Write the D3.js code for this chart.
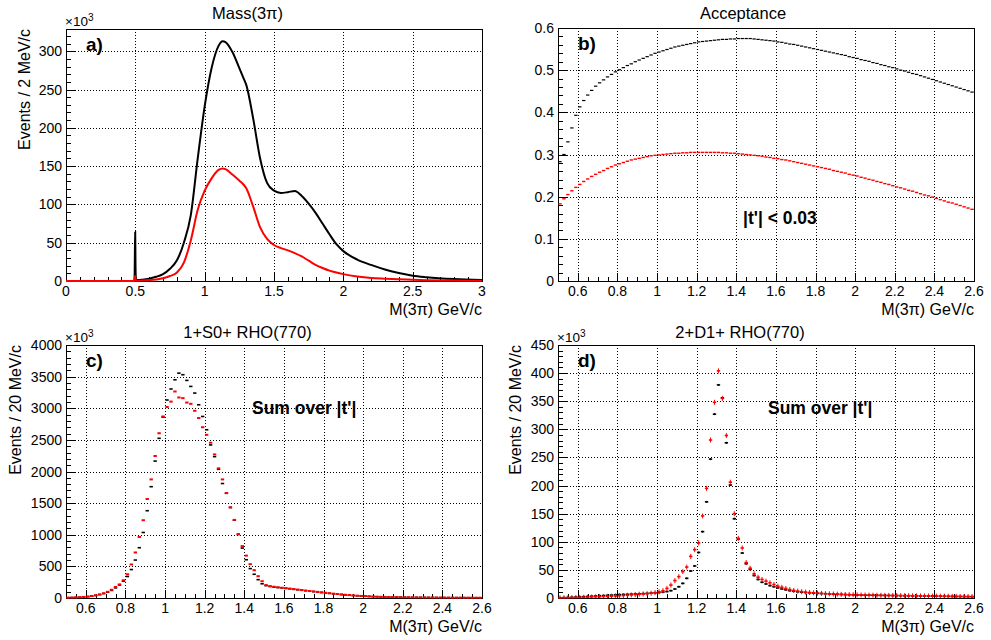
<!DOCTYPE html>
<html><head><meta charset="utf-8">
<script src="https://cdn.jsdelivr.net/npm/d3@7"></script>
<style>
body{margin:0;background:#fff}
svg{display:block}
text{font-family:'Liberation Sans',Arial,Helvetica,sans-serif;fill:#000}
</style>
</head><body>
<svg id="chart" width="991" height="640"></svg>
<script>
// ---------- Panel a: Mass(3pi), values in 10^3 events / 2 MeV ----------
const massX = [0,0.40,0.46,0.492,0.495,0.497,0.499,0.501,0.503,0.506,
  0.52,0.55,0.60,0.65,0.70,0.75,0.80,0.85,0.90,0.95,
  1.00,1.05,1.10,1.13,1.15,1.20,1.25,1.28,1.30,1.35,
  1.40,1.45,1.50,1.55,1.60,1.65,1.70,1.75,1.80,1.85,
  1.90,1.95,2.00,2.10,2.20,2.30,2.40,2.50,2.60,2.80,3.00];
const massAll = [0,0,0.1,0.3,8,40,64,25,6,1.5,
  1.2,1.6,3,5.5,9,16,27,50,86,160,
  228,278,307,313,312,299,278,265,256,212,
  160,128,118,115,116,117.5,111,101,89,75,
  61,48,39,28,21,15,10.5,7,5,2.5,1.2];
const massSel = [0,0,0,0.1,1.5,4.5,6.5,3,0.8,0.3,
  0.3,0.6,1.2,2,3.5,6.5,11,24,53,93,
  118,134,145,147,146,139,131,126,121,97,
  70,55,47,43,40,36.5,32,26.5,21,17,
  13.5,11,9,6,4,3,2.2,1.6,1.1,0.6,0.3];

// ---------- 20 MeV bins from 0.5 to 2.6 GeV (panels b, c, d) ----------
const binWidth = 0.02;
const binCenters = d3.range(105).map(i => +(0.51 + binWidth * i).toFixed(2));

// ---------- Panel b: Acceptance ----------
const accAll = [0.283,0.300,0.330,0.363,0.393,0.413,0.428,0.441,0.452,0.462,
 0.470,0.477,0.484,0.490,0.496,0.501,0.506,0.511,0.515,0.520,
 0.524,0.528,0.532,0.536,0.540,0.543,0.546,0.549,0.552,0.555,
 0.557,0.559,0.561,0.563,0.565,0.567,0.568,0.569,0.570,0.571,
 0.572,0.573,0.573,0.574,0.574,0.575,0.575,0.575,0.575,0.574,
 0.573,0.572,0.571,0.570,0.569,0.567,0.566,0.564,0.562,0.561,
 0.559,0.557,0.555,0.553,0.551,0.549,0.547,0.545,0.543,0.541,
 0.539,0.537,0.535,0.532,0.530,0.528,0.525,0.523,0.521,0.518,
 0.516,0.513,0.511,0.508,0.506,0.503,0.500,0.498,0.495,0.492,
 0.490,0.487,0.484,0.481,0.478,0.475,0.472,0.469,0.466,0.463,
 0.460,0.457,0.454,0.451,0.448];
const accSel = [0.183,0.195,0.205,0.214,0.222,0.229,0.236,0.242,0.248,0.253,
 0.258,0.262,0.267,0.271,0.275,0.278,0.281,0.284,0.287,0.289,
 0.291,0.293,0.295,0.297,0.298,0.299,0.300,0.301,0.302,0.303,
 0.303,0.304,0.304,0.305,0.305,0.305,0.305,0.305,0.305,0.305,
 0.305,0.304,0.304,0.303,0.303,0.302,0.301,0.300,0.299,0.298,
 0.297,0.296,0.294,0.293,0.291,0.290,0.288,0.287,0.285,0.283,
 0.281,0.279,0.277,0.275,0.273,0.271,0.269,0.267,0.265,0.262,
 0.260,0.258,0.256,0.253,0.251,0.249,0.246,0.244,0.241,0.239,
 0.236,0.234,0.231,0.229,0.226,0.223,0.221,0.218,0.215,0.213,
 0.210,0.207,0.204,0.202,0.199,0.196,0.193,0.190,0.187,0.185,
 0.182,0.179,0.176,0.173,0.170];

// ---------- Panel c: 1+S0+ RHO(770), 10^3 events / 20 MeV ----------
const s0Black = [5,7,9,12,16,22,30,40,53,70,
 92,120,160,205,265,340,450,600,795,1036,
 1380,1760,2165,2525,2860,3130,3305,3450,3555,3530,
 3440,3345,3240,3055,2870,2660,2420,2235,2035,1810,
 1655,1430,1230,1005,790,605,465,375,290,225,
 195,182,172,165,160,152,145,137,130,122,
 115,108,101,94,87,80,73,66,60,54,
 49,44,39,35,31,28,25,22,20,18,
 16,15,14,13,12,11,10,9.5,9,8.5,
 8,7.5,7,6.5,6,5.8,5.5,5.2,5,4.8,
 4.6,4.4,4.2,4,3.8];
const s0Red = [5,7,9,12,17,23,32,43,57,75,
 98,130,175,215,280,375,530,720,965,1230,
 1565,1875,2245,2605,2870,3020,3105,3265,3170,3160,
 3090,3070,2960,2845,2700,2580,2455,2270,2050,1875,
 1660,1435,1235,1010,820,670,535,440,345,265,
 205,188,178,170,163,156,149,141,134,126,
 118,111,104,97,90,83,76,69,63,57,
 51,46,41,37,33,29,26,23,21,19,
 17,16,15,14,13,12,11,10.5,10,9.5,
 9,8.5,8,7.5,7,6.6,6.2,5.9,5.6,5.3,
 5,4.8,4.6,4.4,4.2];

// ---------- Panel d: 2+D1+ RHO(770), 10^3 events / 20 MeV ----------
const d1Black = [0.5,0.7,1,1.3,1.6,2,2.4,2.8,3.2,3.6,
 4,4.4,4.8,5.2,5.6,6,6.3,6.6,6.9,7.2,
 7.5,7.8,8.2,8.7,9.3,9.8,10.5,11.5,13,16,
 20,26,35,48,57,81,118,171,247,327,
 379,356,276,201,141,105,80,61,51,40,
 33,28,25,22,20,18,16,14.5,13,12,
 11,10.3,9.7,9.2,8.7,8.3,7.9,7.5,7.2,6.9,
 6.6,6.3,6,5.8,5.6,5.4,5.2,5,4.9,4.8,
 4.7,4.6,4.5,4.4,4.3,4.2,4.1,4,3.9,3.8,
 3.7,3.6,3.5,3.4,3.3,3.2,3.1,3,2.9,2.8,
 2.7,2.6,2.5,2.4,2.3];
const d1Red = [0.3,0.4,0.5,0.7,0.9,1.1,1.3,1.5,1.8,2.1,
 2.4,2.7,3,3.3,3.6,4,4.4,4.9,5.4,6,
 6.7,7.2,7.6,8.5,9.5,11,13,17,23,31,
 38,47,55,74,86,98,146,195,281,348,
 404,355,289,206,150,106,89,63,53,43,
 37,33,30,27,24,21,19,17,15,13.5,
 12.3,11.3,10.5,9.8,9.2,8.7,8.2,7.8,7.4,7.1,
 6.8,6.5,6.2,6,5.8,5.6,5.4,5.2,5.1,5,
 4.9,4.8,4.7,4.6,4.5,4.4,4.3,4.2,4.1,4,
 3.9,3.8,3.7,3.6,3.5,3.4,3.3,3.2,3.1,3,
 2.9,2.8,2.7,2.6,2.5];

// ---------- axis ticks ----------
const aXTicks = [0,0.5,1,1.5,2,2.5,3];
const aYTicks = [0,50,100,150,200,250,300];
const bXTicks = [0.6,0.8,1,1.2,1.4,1.6,1.8,2,2.2,2.4,2.6];
const bYTicks = [0,0.1,0.2,0.3,0.4,0.5,0.6];
const cYTicks = [0,500,1000,1500,2000,2500,3000,3500,4000];
const dYTicks = [0,50,100,150,200,250,300,350,400,450];

const svg = d3.select('#chart');

function fmt(v){ return String(+v.toFixed(3)); }

function drawPanel(p){
  const x = d3.scaleLinear().domain(p.xDomain).range([p.L, p.R]);
  const y = d3.scaleLinear().domain(p.yDomain).range([p.B, p.T]);
  const g = svg.append('g');
  const px = v => Math.round(x(v)) + 0.5;
  const py = v => Math.round(y(v)) + 0.5;

  // grid
  const gxv = p.xTicks.filter(v => x(v) > p.L + 1 && x(v) < p.R - 1);
  const gyv = p.yTicks.filter(v => y(v) < p.B - 1 && y(v) > p.T + 1);
  g.selectAll(null).data(gxv).join('line')
    .attr('x1', px).attr('x2', px).attr('y1', p.T).attr('y2', p.B)
    .attr('stroke', '#000').attr('stroke-width', 1).attr('stroke-dasharray', '1,2')
    .attr('shape-rendering', 'crispEdges');
  g.selectAll(null).data(gyv).join('line')
    .attr('y1', py).attr('y2', py).attr('x1', p.L).attr('x2', p.R)
    .attr('stroke', '#000').attr('stroke-width', 1).attr('stroke-dasharray', '1,2')
    .attr('shape-rendering', 'crispEdges');

  // minor & major ticks
  const xMinor = d3.range(p.xDomain[0], p.xDomain[1] + 1e-9, p.xMinorStep);
  const yMinor = d3.range(p.yDomain[0], p.yDomain[1] + 1e-9, p.yMinorStep);
  g.selectAll(null).data(xMinor).join('line')
    .attr('x1', px).attr('x2', px).attr('y1', p.B).attr('y2', p.B - 4)
    .attr('stroke', '#000').attr('shape-rendering', 'crispEdges');
  g.selectAll(null).data(p.xTicks).join('line')
    .attr('x1', px).attr('x2', px).attr('y1', p.B).attr('y2', p.B - 8)
    .attr('stroke', '#000').attr('shape-rendering', 'crispEdges');
  g.selectAll(null).data(yMinor).join('line')
    .attr('y1', py).attr('y2', py).attr('x1', p.L).attr('x2', p.L + 5)
    .attr('stroke', '#000').attr('shape-rendering', 'crispEdges');
  g.selectAll(null).data(p.yTicks).join('line')
    .attr('y1', py).attr('y2', py).attr('x1', p.L).attr('x2', p.L + 9)
    .attr('stroke', '#000').attr('shape-rendering', 'crispEdges');

  // frame
  g.append('rect').attr('x', p.L + 0.5).attr('y', p.T + 0.5)
    .attr('width', p.R - p.L).attr('height', p.B - p.T)
    .attr('fill', 'none').attr('stroke', '#000').attr('shape-rendering', 'crispEdges');

  // tick labels
  g.selectAll(null).data(p.xTicks).join('text')
    .attr('x', d => x(d)).attr('y', p.B + 15).attr('text-anchor', 'middle')
    .attr('font-size', 14).text(fmt);
  g.selectAll(null).data(p.yTicks).join('text')
    .attr('x', p.L - 4).attr('y', d => y(d)).attr('dy', '0.36em').attr('text-anchor', 'end')
    .attr('font-size', 14).text(fmt);

  // exponent
  if (p.exp) {
    const t = g.append('text').attr('x', p.L - 1).attr('y', p.T - 3).attr('font-size', 13.5);
    t.append('tspan').text('×10');
    t.append('tspan').attr('dy', -5).attr('font-size', 10).text('3');
  }
  // titles
  g.append('text').attr('x', p.titleX).attr('y', p.titleY).attr('text-anchor', 'middle')
    .attr('font-size', 16.5).text(p.title);
  g.append('text').attr('x', p.R).attr('y', p.B + 34).attr('text-anchor', 'end')
    .attr('font-size', 16).text('M(3π) GeV/c');
  if (p.yTitle) {
    g.append('text').attr('transform', `translate(${p.yTitleX},${p.T}) rotate(-90)`)
      .attr('text-anchor', 'end').attr('font-size', 16).text(p.yTitle);
  }
  g.append('text').attr('x', p.L + 20).attr('y', p.T + 22).attr('font-size', 19)
    .attr('font-weight', 'bold').text(p.tag);
  if (p.note) {
    g.append('text').attr('x', p.note.x).attr('y', p.note.y).attr('font-size', 17.5)
      .attr('font-weight', 'bold').text(p.note.text);
  }
  return {g, x, y};
}

function drawBins(ctx, values, color, sw, errPx){
  const {g, x, y} = ctx;
  const m = g.append('g');
  m.selectAll(null).data(values).join('line')
    .attr('x1', (d, i) => x(binCenters[i] - binWidth / 2) + 0.3)
    .attr('x2', (d, i) => x(binCenters[i] + binWidth / 2) - 0.3)
    .attr('y1', d => y(d)).attr('y2', d => y(d))
    .attr('stroke', color).attr('stroke-width', sw);
  if (errPx) {
    m.selectAll(null).data(values).join('line')
      .attr('x1', (d, i) => x(binCenters[i])).attr('x2', (d, i) => x(binCenters[i]))
      .attr('y1', d => Math.min(y(d) + errPx, y(0))).attr('y2', d => y(d) - errPx)
      .attr('stroke', color).attr('stroke-width', 1);
  }
}

// ---- Panel a ----
const pa = drawPanel({L:66, R:482, T:29, B:281, xDomain:[0,3], yDomain:[0,329],
  xTicks:aXTicks, yTicks:aYTicks, xMinorStep:0.1, yMinorStep:10, exp:true,
  title:'Mass(3π)', titleX:247.5, titleY:19, yTitle:'Events / 2 MeV/c', yTitleX:30, tag:'a)'});
const lineA = d3.line().x(d => pa.x(d[0])).y(d => pa.y(d[1])).curve(d3.curveMonotoneX);
pa.g.append('path').attr('d', lineA(massX.map((v, i) => [v, massAll[i]])))
  .attr('fill', 'none').attr('stroke', '#000').attr('stroke-width', 2);
pa.g.append('path').attr('d', lineA(massX.map((v, i) => [v, massSel[i]])))
  .attr('fill', 'none').attr('stroke', '#ff0000').attr('stroke-width', 2);

// ---- Panel b ----
const pb = drawPanel({L:558, R:974, T:28, B:281, xDomain:[0.5,2.6], yDomain:[0,0.6],
  xTicks:bXTicks, yTicks:bYTicks, xMinorStep:0.05, yMinorStep:0.02, exp:false,
  title:'Acceptance', titleX:743, titleY:19, yTitle:null, tag:'b)',
  note:{x:743, y:224, text:"|t'| < 0.03"}});
drawBins(pb, accAll, '#000', 1.2, 0);
drawBins(pb, accSel, '#ff0000', 1.4, 0);

// ---- Panel c ----
const pc = drawPanel({L:66, R:482, T:345, B:598, xDomain:[0.5,2.6], yDomain:[0,4000],
  xTicks:bXTicks, yTicks:cYTicks, xMinorStep:0.05, yMinorStep:100, exp:true,
  title:'1+S0+ RHO(770)', titleX:247.5, titleY:338, yTitle:'Events / 20 MeV/c', yTitleX:21, tag:'c)',
  note:{x:252, y:414, text:"Sum over |t'|"}});
drawBins(pc, s0Black, '#000', 1.6, 0);
drawBins(pc, s0Red, '#ff0000', 2, 0);

// ---- Panel d ----
const pd = drawPanel({L:558, R:974, T:345, B:598, xDomain:[0.5,2.6], yDomain:[0,450],
  xTicks:bXTicks, yTicks:dYTicks, xMinorStep:0.05, yMinorStep:10, exp:true,
  title:'2+D1+ RHO(770)', titleX:740, titleY:338, yTitle:'Events / 20 MeV/c', yTitleX:521, tag:'d)',
  note:{x:768, y:414, text:"Sum over |t'|"}});
drawBins(pd, d1Black, '#000', 1.6, 1);
drawBins(pd, d1Red, '#ff0000', 1.6, 2.5);
</script>
</body></html>
